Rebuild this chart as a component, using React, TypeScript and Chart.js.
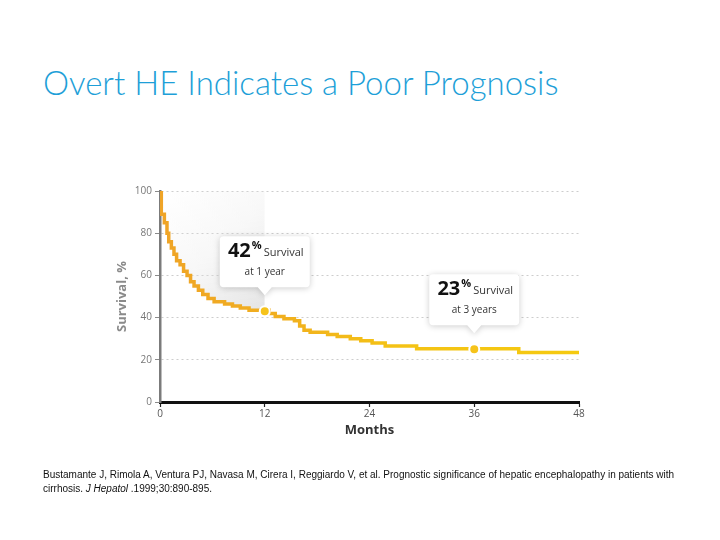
import React, { useEffect, useRef } from "react";
import { Chart, registerables } from "chart.js";

Chart.register(...registerables);

// ---- Data ----
const months = [
  0, 0.15, 0.5, 0.8, 1.0, 1.3, 1.6, 1.9, 2.3, 2.7, 3.1, 3.5, 3.9, 4.4, 4.9, 5.5, 6.2, 7.4, 8.3, 9.2,
  10.2, 12.5, 13.2, 14.2, 15.4, 16.0, 16.5, 17.2, 19.2, 20.3, 21.8, 23.0, 24.3, 25.8, 29.4, 41.1, 48,
];
const survival = [
  100, 89, 85, 80, 76, 73, 70, 67, 65, 62, 60, 57, 55, 53, 51, 49, 47.5, 46.5, 45.5, 44.5,
  43.5, 42, 40.5, 39.5, 38.5, 36, 34, 33, 32, 31, 30, 29, 28, 26.5, 25.2, 23.5, 23.5,
];
const markerMonths = [12, 36];
const markerSurvival = [43, 25];
const calloutPercents = ["42", "23"];
const calloutSubtitles = ["at 1 year", "at 3 years"];
const calloutWord = "Survival";
const xTickValues = [0, 12, 24, 36, 48];
const yTickValues = [0, 20, 40, 60, 80, 100];
const shadeUntilMonth = 12;

const titleText = "Overt HE Indicates a Poor Prognosis";
const xAxisTitle = "Months";
const yAxisTitle = "Survival, %";

const FONT = "'Open Sans', 'Noto Sans', sans-serif";

const calloutPlugin = {
  id: "callouts",
  afterDatasetsDraw(chart: any) {
    const ctx: CanvasRenderingContext2D = chart.ctx;
    const xs = chart.scales.x;
    const ys = chart.scales.y;
    markerMonths.forEach((m, i) => {
      const px = xs.getPixelForValue(m);
      const py = ys.getPixelForValue(markerSurvival[i]);
      const w = 90;
      const h = 51;
      const bottom = py - 24;
      const top = bottom - h;
      const left = px - w / 2;
      const r = 4;
      ctx.save();
      ctx.shadowColor = "rgba(0,0,0,0.20)";
      ctx.shadowBlur = 6;
      ctx.shadowOffsetY = 1;
      ctx.fillStyle = "#ffffff";
      ctx.beginPath();
      ctx.moveTo(left + r, top);
      ctx.lineTo(left + w - r, top);
      ctx.arcTo(left + w, top, left + w, top + r, r);
      ctx.lineTo(left + w, bottom - r);
      ctx.arcTo(left + w, bottom, left + w - r, bottom, r);
      ctx.lineTo(px + 7, bottom);
      ctx.lineTo(px, bottom + 8);
      ctx.lineTo(px - 7, bottom);
      ctx.lineTo(left + r, bottom);
      ctx.arcTo(left, bottom, left, bottom - r, r);
      ctx.lineTo(left, top + r);
      ctx.arcTo(left, top, left + r, top, r);
      ctx.closePath();
      ctx.fill();
      ctx.restore();

      ctx.save();
      ctx.textBaseline = "alphabetic";
      ctx.textAlign = "left";
      const bigFont = `bold 20px ${FONT}`;
      const pctFont = `bold 11px ${FONT}`;
      const wordFont = `11px ${FONT}`;
      ctx.font = bigFont;
      const wBig = ctx.measureText(calloutPercents[i]).width;
      ctx.font = pctFont;
      const wPct = ctx.measureText("%").width;
      ctx.font = wordFont;
      const wWord = ctx.measureText(calloutWord).width;
      const total = wBig + 1 + wPct + 2 + wWord;
      let x = px - total / 2 + 1;
      ctx.fillStyle = "#111";
      ctx.font = bigFont;
      ctx.fillText(calloutPercents[i], x, top + 21);
      x += wBig + 1;
      ctx.font = pctFont;
      ctx.fillText("%", x, top + 13);
      x += wPct + 2;
      ctx.fillStyle = "#333";
      ctx.font = wordFont;
      ctx.fillText(calloutWord, x, top + 20);
      ctx.font = `10px ${FONT}`;
      ctx.textAlign = "center";
      ctx.fillStyle = "#333";
      ctx.fillText(calloutSubtitles[i], px, top + 39);
      ctx.restore();
    });
  },
};

export default function App() {
  const canvasRef = useRef<HTMLCanvasElement | null>(null);

  useEffect(() => {
    const canvas = canvasRef.current;
    if (!canvas) return;

    const lineData = months.map((m, i) => ({ x: m, y: survival[i] }));
    const shadeData = lineData.filter((p) => p.x <= shadeUntilMonth);
    shadeData.push({ x: shadeUntilMonth, y: shadeData[shadeData.length - 1].y });
    const markerData = markerMonths.map((m, i) => ({ x: m, y: markerSurvival[i] }));

    const chart = new Chart(canvas, {
      type: "line",
      data: {
        datasets: [
          {
            label: "markers",
            data: markerData,
            showLine: false,
            pointRadius: 5,
            pointHoverRadius: 5,
            pointBackgroundColor: "#F6C31A",
            pointBorderColor: "#ffffff",
            pointBorderWidth: 2,
            order: 1,
          },
          {
            label: "survival",
            data: lineData,
            stepped: true,
            borderWidth: 3.5,
            pointRadius: 0,
            fill: false,
            order: 2,
            borderColor: (c: any) => {
              const ch = c.chart;
              const ca = ch.chartArea;
              if (!ca) return "#F2B51C";
              const g = ch.ctx.createLinearGradient(ca.left, 0, ca.right, 0);
              g.addColorStop(0, "#EFA427");
              g.addColorStop(0.3, "#F1B01E");
              g.addColorStop(0.55, "#F4C215");
              g.addColorStop(1, "#F5CA10");
              return g;
            },
          } as any,
          {
            label: "shade",
            data: shadeData,
            stepped: true,
            borderWidth: 0,
            pointRadius: 0,
            fill: "end",
            order: 3,
            backgroundColor: (c: any) => {
              const ch = c.chart;
              const ca = ch.chartArea;
              if (!ca) return "rgba(0,0,0,0)";
              const x12 = ch.scales.x.getPixelForValue(shadeUntilMonth);
              const y40 = ch.scales.y.getPixelForValue(42);
              const g = ch.ctx.createLinearGradient(ca.left, ca.top, x12, y40);
              g.addColorStop(0, "rgba(230,230,230,0)");
              g.addColorStop(0.5, "rgba(226,226,226,0.25)");
              g.addColorStop(1, "rgba(218,218,218,0.75)");
              return g;
            },
          } as any,
        ],
      },
      options: {
        responsive: false,
        animation: false,
        layout: { padding: { left: 110, right: 141, top: 191, bottom: 98 } },
        plugins: { legend: { display: false }, tooltip: { enabled: false } },
        scales: {
          x: {
            type: "linear",
            min: 0,
            max: 48,
            afterBuildTicks: (s: any) => {
              s.ticks = xTickValues.map((v) => ({ value: v }));
            },
            afterFit: (s: any) => {
              s.height = 40;
            },
            grid: {
              display: true,
              drawOnChartArea: false,
              drawTicks: true,
              tickLength: 5,
              tickColor: "#222",
              tickWidth: 1.2,
            },
            border: { display: true, color: "#111", width: 3 },
            ticks: {
              color: "#555",
              font: { family: FONT, size: 10 },
              padding: 1,
              maxRotation: 0,
            },
            title: {
              display: true,
              text: xAxisTitle,
              color: "#333",
              font: { family: FONT, size: 13, weight: "bold" },
              padding: { top: 2, bottom: 4 },
            },
          },
          y: {
            min: 0,
            max: 100,
            afterBuildTicks: (s: any) => {
              s.ticks = yTickValues.map((v) => ({ value: v }));
            },
            afterFit: (s: any) => {
              s.width = 50;
            },
            grid: {
              color: (c: any) => (c.tick && c.tick.value === 0 ? "rgba(0,0,0,0)" : "#cdcdcd"),
              lineWidth: 1,
              drawTicks: true,
              tickLength: 5,
              tickColor: "#8a8a8a",
              tickBorderDash: [],
            },
            border: { display: true, color: "#7b7b7b", width: 2.5, dash: [2, 3] },
            ticks: {
              color: "#777",
              font: { family: FONT, size: 10 },
              padding: 3,
            },
            title: {
              display: true,
              text: yAxisTitle,
              color: "#8a8a8a",
              font: { family: FONT, size: 13, weight: "bold" },
              padding: { top: 4, bottom: 4 },
            },
          },
        },
      } as any,
      plugins: [calloutPlugin],
    });

    return () => chart.destroy();
  }, []);

  return (
    <div style={{ position: "absolute", left: 0, top: 0, width: 720, height: 540, background: "#fff", overflow: "hidden" }}>
      <div
        style={{
          position: "absolute",
          left: 43,
          top: 62,
          fontFamily: "Lato, 'Open Sans', sans-serif",
          fontWeight: 300,
          fontSize: 33,
          lineHeight: "40px",
          color: "#1E9FD8",
          whiteSpace: "nowrap",
        }}
      >
        {titleText}
      </div>
      <canvas ref={canvasRef} width={720} height={540} style={{ position: "absolute", left: 0, top: 0 }} />
      <div
        style={{
          position: "absolute",
          left: 43,
          top: 468,
          width: 660,
          fontFamily: "'Liberation Sans', Arial, sans-serif",
          fontSize: 10,
          lineHeight: "14px",
          color: "#111",
          whiteSpace: "nowrap",
        }}
      >
        Bustamante J, Rimola A, Ventura PJ, Navasa M, Cirera I, Reggiardo V, et al. Prognostic significance of hepatic encephalopathy in patients with
        <br />
        cirrhosis. <i>J Hepatol</i> .1999;30:890-895.
      </div>
    </div>
  );
}
